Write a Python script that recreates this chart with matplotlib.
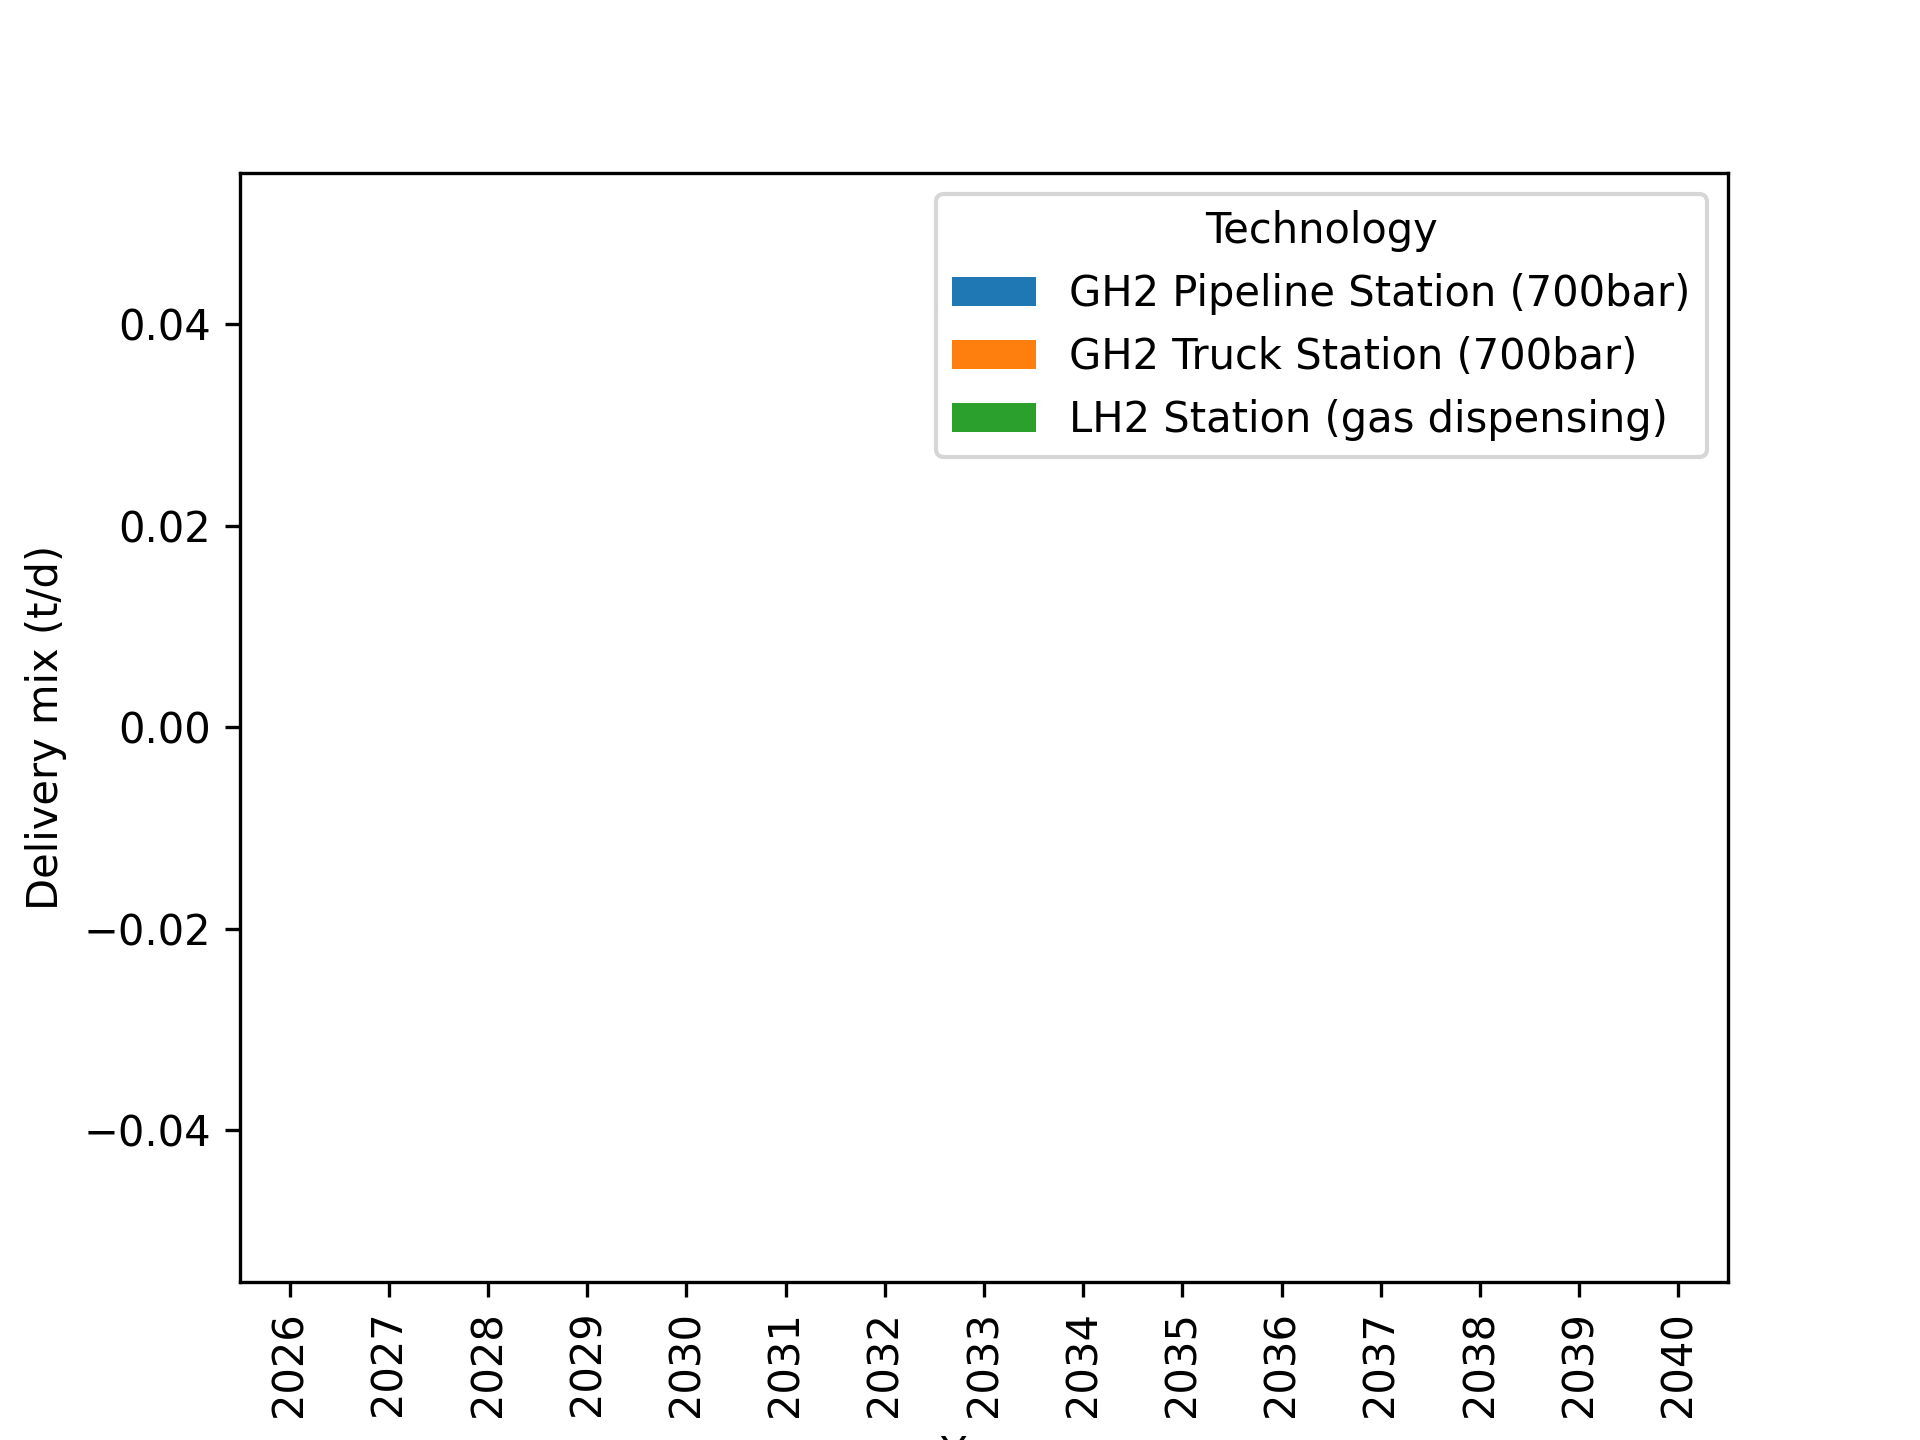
import pandas as pd
import matplotlib
matplotlib.use("Agg")
import matplotlib.pyplot as plt

years = list(range(2026, 2041))
technologies = ["GH2 Pipeline Station (700bar)",
                "GH2 Truck Station (700bar)",
                "LH2 Station (gas dispensing)"]
pipeline = [0.0] * len(years)
truck = [0.0] * len(years)
lh2 = [0.0] * len(years)

df = pd.DataFrame({technologies[0]: pipeline,
                   technologies[1]: truck,
                   technologies[2]: lh2}, index=years)
df.index.name = "Year"
df.columns.name = "Technology"

fig, ax = plt.subplots(figsize=(6.4, 4.8))
df.plot(kind="bar", stacked=True, ax=ax)
ax.set_ylabel("Delivery mix (t/d)")
# the xlabel "Year" runs off the bottom edge in the reference too
fig.savefig("out.png", dpi=300)
